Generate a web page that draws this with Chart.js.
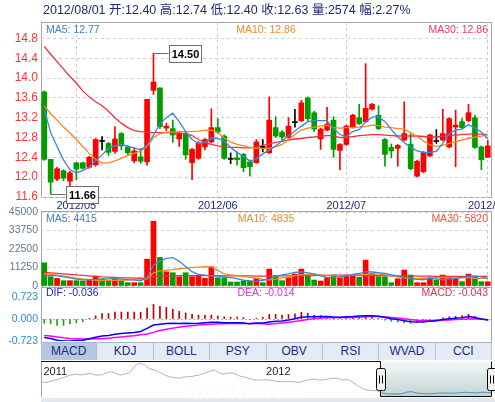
<!DOCTYPE html>
<html>
<head>
<meta charset="utf-8">
<script src="https://cdn.jsdelivr.net/npm/chart.js@4.4.1/dist/chart.umd.min.js"></script>
<style>
  html, body { margin: 0; padding: 0; background: #fff; }
  body { width: 495px; height: 402px; position: relative; overflow: hidden;
         font-family: "Liberation Sans", Arial, "Noto Sans CJK SC", sans-serif; }
  canvas { position: absolute; left: 0; }
  .frame { position: absolute; box-sizing: border-box; border: 1px solid #a6a6a6; }
  .txt { position: absolute; white-space: nowrap; }
  #tabs { position: absolute; left: 41px; top: 342px; width: 451px; height: 18px; display: flex;
          background: #e5ebf5; border-top: 1px solid #a9b8d0; box-sizing: border-box; z-index: 5; }
  #tabs div { flex: 1; text-align: center; font-size: 12px; line-height: 17px; color: #1d2b80;
              border-right: 1px solid #b3c1d9; }
  #tabs div.on { background: #b6c7e2; }
  #scroll { position: absolute; left: 41px; top: 398px; width: 454px; height: 4px; background: #e3e7ee; }
</style>
</head>
<body>
<div class="frame" style="left:41px;top:22px;width:451px;height:176px"></div>
<div class="frame" style="left:41px;top:211px;width:451px;height:132px"></div>
<div style="position:absolute;left:41px;top:287px;width:451px;height:1px;background:#a6a6a6"></div>
<div id="scroll"></div>

<canvas id="priceChart" width="495" height="212" style="top:0px"></canvas>
<canvas id="volChart" width="495" height="90" style="top:200px"></canvas>
<canvas id="macdChart" width="495" height="62" style="top:287px"></canvas>
<canvas id="navChart" width="495" height="44" style="top:358px"></canvas>
<div id="tabs"></div>
<div id="labels"></div>

<script>
// ---------- daily bars ----------
const dates = [
  '2012/04/23','2012/04/24','2012/04/25','2012/04/26','2012/04/27',
  '2012/05/02','2012/05/03','2012/05/04','2012/05/07','2012/05/08','2012/05/09','2012/05/10','2012/05/11',
  '2012/05/14','2012/05/15','2012/05/16','2012/05/17','2012/05/18','2012/05/21','2012/05/22','2012/05/23',
  '2012/05/24','2012/05/25','2012/05/28','2012/05/29','2012/05/30','2012/05/31',
  '2012/06/01','2012/06/04','2012/06/05','2012/06/06','2012/06/07','2012/06/08','2012/06/11','2012/06/12',
  '2012/06/13','2012/06/14','2012/06/15','2012/06/18','2012/06/19','2012/06/20','2012/06/21','2012/06/25',
  '2012/06/26','2012/06/27','2012/06/28','2012/06/29',
  '2012/07/02','2012/07/03','2012/07/04','2012/07/05','2012/07/06','2012/07/09','2012/07/10','2012/07/11',
  '2012/07/12','2012/07/13','2012/07/16','2012/07/17','2012/07/18','2012/07/19','2012/07/20','2012/07/23',
  '2012/07/24','2012/07/25','2012/07/26','2012/07/27','2012/07/30','2012/07/31',
  '2012/08/01'
];
const opens = [
  13.72,12.36,11.96,12.13,11.92,12.29,12.29,12.20,12.25,12.72,
  12.68,12.52,12.88,12.61,12.33,12.41,12.31,13.75,13.80,12.99,
  12.98,12.77,12.88,12.29,12.38,12.61,12.71,13.00,12.83,12.36,
  12.39,12.46,12.31,12.29,12.60,12.49,13.00,12.91,12.80,13.10,
  13.14,13.60,13.30,12.77,12.95,13.15,12.54,12.66,13.01,13.20,
  13.12,13.37,13.25,12.76,12.60,12.58,12.75,12.66,12.02,12.11,
  12.43,12.72,12.75,12.61,13.01,13.12,13.14,13.20,12.61,12.40
];
const highs = [
  13.74,12.36,12.20,12.15,12.12,12.30,12.30,12.42,12.78,12.82,
  12.70,13.02,12.90,12.64,12.60,12.58,13.57,14.50,13.80,13.09,
  13.15,12.92,12.92,12.58,12.72,12.78,13.38,13.18,12.85,12.49,
  12.51,12.48,12.35,12.76,12.76,13.62,13.22,12.94,13.20,13.37,
  13.55,13.62,13.33,12.99,13.41,13.22,12.68,13.05,13.27,13.47,
  14.29,13.49,13.44,12.78,12.67,12.66,13.52,12.88,12.34,12.52,
  12.87,12.96,13.37,13.20,13.35,13.18,13.47,13.25,12.63,12.74
];
const lows = [
  12.34,11.66,11.93,11.93,11.82,11.95,12.16,12.18,12.22,12.55,
  12.44,12.48,12.55,12.45,12.29,12.28,12.24,13.67,12.98,12.94,
  12.70,12.62,12.36,11.95,12.36,12.55,12.69,12.88,12.36,12.27,
  12.24,12.11,12.02,12.28,12.51,12.48,12.80,12.74,12.78,13.01,
  13.12,13.14,12.92,12.56,12.94,12.40,12.15,12.64,12.99,13.06,
  13.10,13.35,12.96,12.22,12.39,12.22,12.73,12.15,12.00,12.09,
  12.41,12.68,12.73,12.59,12.21,12.98,13.12,12.58,12.15,12.40
];
const closes = [
  12.36,11.90,12.17,11.98,12.09,12.16,12.18,12.40,12.76,12.72,
  12.50,12.77,12.63,12.49,12.53,12.32,13.57,13.92,13.02,13.03,
  12.85,12.89,12.45,12.56,12.68,12.76,13.00,12.91,12.38,12.36,
  12.35,12.19,12.21,12.71,12.60,13.15,12.83,12.81,13.03,13.10,
  13.50,13.18,12.97,12.97,13.07,12.56,12.66,13.03,13.25,13.08,
  13.39,13.47,12.98,12.46,12.53,12.64,12.88,12.17,12.32,12.50,
  12.85,12.72,12.88,13.18,13.05,13.00,13.30,12.60,12.35,12.63
];
const volumes = [
  14100,5650,4660,3230,3230,3230,3030,3630,6050,4400,
  3030,4040,3030,2020,2020,2020,16350,39360,17360,8680,
  8070,5650,8070,5650,6050,4660,11710,5050,5050,2420,
  2420,3030,3030,4660,2020,10300,6260,3230,5050,7270,
  10300,6660,3630,3030,5250,6660,5050,6660,6660,5250,
  15750,7670,5650,5650,2020,4440,9690,6660,2020,2020,
  5050,3630,6660,4660,4660,2620,7270,5850,2620,2574
];

// ---------- price moving averages ----------
const ma5 = [
  13.37,12.90,12.62,12.35,12.15,12.09,12.13,12.20,12.33,12.45,
  12.58,12.63,12.66,12.62,12.59,12.55,12.64,12.85,13.08,13.20,
  13.29,13.12,12.92,12.76,12.68,12.70,12.79,12.78,12.73,12.60,
  12.50,12.42,12.32,12.37,12.47,12.55,12.63,12.73,12.83,12.93,
  13.03,13.12,13.14,13.14,13.14,12.98,12.86,12.82,12.92,12.96,
  13.12,13.21,13.22,13.12,12.96,12.81,12.70,12.60,12.53,12.50,
  12.50,12.52,12.68,12.88,12.95,12.97,13.06,12.99,12.91,12.77
];
const ma10 = [
  13.44,13.28,13.15,13.01,12.89,12.76,12.62,12.48,12.36,12.29,
  12.29,12.33,12.38,12.44,12.48,12.53,12.62,12.80,12.88,12.91,
  12.91,12.92,12.92,12.92,12.93,12.95,12.95,12.90,12.79,12.71,
  12.66,12.63,12.60,12.58,12.58,12.58,12.61,12.66,12.76,12.86,
  12.95,12.99,13.01,13.03,13.05,13.00,12.99,13.00,13.00,13.01,
  13.02,13.05,13.04,13.01,13.00,12.98,12.97,12.90,12.82,12.73,
  12.65,12.62,12.64,12.68,12.71,12.75,12.78,12.81,12.83,12.86
];
const ma30 = [
  14.64,14.48,14.33,14.18,14.03,13.90,13.74,13.62,13.52,13.44,
  13.33,13.20,13.09,13.00,12.94,12.92,12.91,12.90,12.90,12.90,
  12.90,12.89,12.88,12.84,12.76,12.70,12.66,12.63,12.61,12.60,
  12.60,12.59,12.59,12.61,12.64,12.67,12.70,12.72,12.75,12.77,
  12.78,12.80,12.81,12.83,12.84,12.84,12.80,12.80,12.82,12.84,
  12.85,12.86,12.86,12.85,12.84,12.83,12.83,12.83,12.83,12.82,
  12.81,12.81,12.83,12.85,12.85,12.86,12.87,12.87,12.87,12.86
];

// ---------- volume moving averages ----------
const volMa5 = [
  5700,6500,6200,5500,4900,4200,3700,3800,4000,4100,
  4300,4400,4200,3900,3700,3200,5200,12700,15300,16800,
  17300,15000,11800,8700,7000,6600,6200,6000,5600,5100,
  4500,3500,3100,2800,3500,4300,5500,6700,7400,8200,
  8600,8000,7400,6200,5300,5400,5600,6200,7000,7600,
  8700,8500,8100,7600,6700,6100,5300,4600,4000,3800,
  4600,4300,3700,4200,4700,5200,5800,6000,5500,4415
];
const volMa10 = [
  7300,7000,6600,6100,5400,4800,4300,3900,3500,3300,
  3300,3400,3500,3600,3700,3800,4300,8000,9200,9600,
  10000,10500,10900,11200,11500,11700,11600,9500,7400,6700,
  6300,5800,5300,4800,4000,3700,4200,4900,5500,6300,
  6900,7100,6900,6700,6500,6200,6100,6300,6600,6800,
  7100,7300,7200,6700,6100,5500,5000,4700,4500,4700,
  5000,5100,5200,5100,5000,5000,4900,4700,4600,4835
];
const volMa30 = [
  8200,8000,7700,7400,7100,6800,6500,6200,5900,5600,
  5400,5200,5000,4900,4800,4700,4800,5700,6100,6200,
  6300,6300,6300,6300,6300,6300,6300,6300,6200,6200,
  6200,6100,6100,6000,6000,6000,6100,6100,6200,6200,
  6300,6400,6400,6500,6500,6600,6600,6500,6500,6400,
  6400,6400,6300,6300,6200,6200,6100,6100,6000,6000,
  6000,5900,5900,5900,5900,5900,5900,5800,5800,5820
];

// ---------- MACD ----------
const dif = [
  -0.61,-0.64,-0.70,-0.72,-0.72,-0.71,-0.70,-0.65,-0.60,-0.56,
  -0.54,-0.50,-0.48,-0.46,-0.44,-0.41,-0.31,-0.20,-0.17,-0.15,
  -0.14,-0.15,-0.14,-0.15,-0.14,-0.12,-0.11,-0.11,-0.12,-0.12,
  -0.12,-0.13,-0.16,-0.135,-0.13,-0.095,-0.075,-0.065,-0.035,0.005,
  0.06,0.075,0.07,0.085,0.08,0.065,0.055,0.07,0.08,0.095,
  0.11,0.11,0.09,0.05,0.01,-0.02,-0.055,-0.09,-0.10,-0.095,
  -0.07,-0.06,-0.02,0.005,0.025,0.045,0.08,0.05,0.00,-0.036
];
const dea = [
  -0.54,-0.56,-0.59,-0.62,-0.64,-0.65,-0.66,-0.66,-0.65,-0.65,
  -0.63,-0.61,-0.59,-0.57,-0.55,-0.52,-0.49,-0.44,-0.38,-0.34,
  -0.30,-0.27,-0.24,-0.22,-0.20,-0.18,-0.17,-0.16,-0.155,-0.15,
  -0.15,-0.15,-0.15,-0.15,-0.16,-0.17,-0.15,-0.13,-0.11,-0.08,
  -0.05,-0.02,0.01,0.03,0.04,0.05,0.05,0.05,0.05,0.06,
  0.07,0.08,0.08,0.07,0.05,0.03,0.01,-0.02,-0.04,-0.05,
  -0.05,-0.05,-0.04,-0.03,-0.02,-0.01,0.00,0.01,-0.01,-0.014
];
const macdHist = [
  -0.14,-0.16,-0.21,-0.21,-0.16,-0.13,-0.09,0.02,0.10,0.18,
  0.18,0.23,0.23,0.23,0.23,0.22,0.36,0.48,0.42,0.38,
  0.32,0.25,0.20,0.15,0.13,0.12,0.13,0.10,0.07,0.06,
  0.06,0.05,-0.02,0.03,0.06,0.15,0.15,0.13,0.15,0.17,
  0.22,0.19,0.12,0.11,0.08,0.03,0.01,0.04,0.06,0.07,
  0.08,0.06,0.02,-0.04,-0.08,-0.10,-0.13,-0.14,-0.12,-0.09,
  -0.04,-0.02,0.04,0.07,0.09,0.11,0.16,0.08,0.02,-0.043
];

// ---------- axes ----------
const priceTicks = [11.6, 12.0, 12.4, 12.8, 13.2, 13.6, 14.0, 14.4, 14.8];
const priceMax = 15.13;
const volumeTicks = [0, 11250, 22500, 33750, 45000];
const macdTicks = [-0.723, 0, 0.723];
const indicatorTabs = ['MACD', 'KDJ', 'BOLL', 'PSY', 'OBV', 'RSI', 'WVAD', 'CCI'];

// ---------- navigator (long-range closes) ----------
const navValues = [
  19.1,18.6,19.4,20.0,20.8,21.7,22.6,23.1,22.6,23.1,
  23.5,22.6,22.6,23.4,24.4,23.7,22.6,23.1,23.9,27.4,
  29.1,27.9,25.8,25.3,23.9,22.6,21.7,21.2,20.9,21.6,
  21.7,22.1,22.6,23.5,24.4,25.3,23.7,23.1,23.8,23.5,
  22.2,21.6,20.9,20.0,20.0,20.0,20.0,19.6,19.1,19.1,
  19.1,19.1,18.6,19.4,20.0,20.5,20.0,20.0,20.5,20.9,
  20.8,20.0,20.2,18.9,17.0,15.4,14.7,14.4,14.3,
  13.1,12.6,12.6,12.6,12.7,13.6,13.8,13.1,12.8,12.7,
  12.7,13.0,13.1,13.1,13.0,13.1,13.3,13.5,13.3,13.1,
  13.5,13.5,13.1
];
const navYearLabels = ['2011', '2012'];
const navYearIndex = [0, 45];
const navRangeStart = 69;

// ---------- styling ----------
Chart.defaults.font.family = '"Liberation Sans", Arial, sans-serif';
const UP = '#ff0000', DOWN = '#009c00', FLAT = '#000000';
const candleColor = closes.map((c, i) => c > opens[i] ? UP : (c < opens[i] ? DOWN : FLAT));
const volColor = closes.map((c, i) => {
  if (c > opens[i]) return UP;
  if (c < opens[i]) return DOWN;
  return (i > 0 && c < closes[i - 1]) ? DOWN : UP;
});
const isMonthStart = i => i > 0 && dates[i].slice(0, 7) !== dates[i - 1].slice(0, 7);

const baseOpts = {
  responsive: false, animation: false, events: [],
  plugins: { legend: { display: false }, tooltip: { enabled: false } }
};

function timeAxis(showLabels, showGrid) {
  return {
    type: 'category', offset: true,
    grid: { display: showGrid, offset: false, drawTicks: false,
            color: c => isMonthStart(c.index) ? '#c9c9c9' : 'rgba(0,0,0,0)' },
    border: { display: false, dash: [3, 3] },
    ticks: { display: showLabels, autoSkip: false, maxRotation: 0, minRotation: 0, padding: 2,
             color: '#1f2d7a', font: { size: 11 },
             callback: (v, i) => isMonthStart(i) ? dates[i].slice(0, 7) : '' },
    afterFit: s => { s.height = showLabels ? 15 : 0; s.paddingLeft = 0; s.paddingRight = 0; }
  };
}
function valueAxis(tickValues, min, max, color, size, fmt, gridColor, dash) {
  return {
    type: 'linear', position: 'left', min, max,
    afterBuildTicks: s => { s.ticks = tickValues.map(v => ({ value: v })); },
    grid: { drawTicks: false, color: gridColor },
    border: { display: false, dash: dash },
    ticks: { color, font: { size }, padding: 3, callback: fmt },
    afterFit: s => { s.width = 41; s.paddingTop = 0; s.paddingBottom = 0; }
  };
}
const lineDs = (label, data, color, order, width) => ({
  type: 'line', label, data, borderColor: color, borderWidth: width || 1.3,
  pointRadius: 0, tension: 0, fill: false, order
});

// tags for the highest high and lowest low of the window
function drawTag(ctx, px, py, value) {
  const lead = 15, w = 32, h = 17;
  const yy = Math.round(py) + 0.5;
  ctx.save();
  ctx.strokeStyle = '#6e6e6e';
  ctx.lineWidth = 1;
  ctx.beginPath(); ctx.moveTo(px, yy); ctx.lineTo(px + lead, yy); ctx.stroke();
  const bx = Math.round(px + lead) + 0.5, by = Math.round(py - h / 2) + 0.5;
  ctx.fillStyle = '#ffffff';
  ctx.fillRect(bx, by, w, h);
  ctx.strokeRect(bx, by, w, h);
  ctx.fillStyle = '#000000';
  ctx.font = 'bold 11px "Liberation Sans", Arial, sans-serif';
  ctx.textAlign = 'center';
  ctx.textBaseline = 'middle';
  ctx.fillText(value.toFixed(2), bx + w / 2, by + h / 2 + 0.5);
  ctx.restore();
}
const extremeTags = {
  id: 'extremeTags',
  afterDraw(chart) {
    const { ctx, scales: { x, y } } = chart;
    const hi = Math.max(...highs), lo = Math.min(...lows);
    const hiIdx = highs.indexOf(hi), loIdx = lows.indexOf(lo);
    drawTag(ctx, x.getPixelForValue(hiIdx), y.getPixelForValue(hi), hi);
    drawTag(ctx, x.getPixelForValue(loIdx), y.getPixelForValue(lo), lo);
  }
};

// ---------- price panel ----------
new Chart(document.getElementById('priceChart'), {
  type: 'bar',
  data: {
    labels: dates,
    datasets: [
      lineDs('MA5', ma5, '#3b86d6', 0),
      lineDs('MA10', ma10, '#f7881e', 1),
      lineDs('MA30', ma30, '#f0303c', 2),
      { label: 'body', data: opens.map((o, i) => [o, closes[i]]), backgroundColor: candleColor,
        barThickness: 5, minBarLength: 1, grouped: false, order: 3 },
      { label: 'wick', data: lows.map((l, i) => [l, highs[i]]), backgroundColor: candleColor,
        barThickness: 1, grouped: false, order: 4 }
    ]
  },
  options: Object.assign({}, baseOpts, {
    layout: { padding: { top: 22, right: 4, left: 0, bottom: 0 } },
    scales: {
      x: timeAxis(true, true),
      y: valueAxis(priceTicks, priceTicks[0], priceMax, '#ff3333', 12, v => v.toFixed(1), '#d2d2d2', [3, 3])
    }
  }),
  plugins: [extremeTags]
});

// ---------- volume panel ----------
new Chart(document.getElementById('volChart'), {
  type: 'bar',
  data: {
    labels: dates,
    datasets: [
      lineDs('MA5', volMa5, '#3b86d6', 0),
      lineDs('MA10', volMa10, '#f7881e', 1),
      lineDs('MA30', volMa30, '#f0303c', 2),
      { label: 'vol', data: volumes, backgroundColor: volColor, barThickness: 5, grouped: false, order: 3 }
    ]
  },
  options: Object.assign({}, baseOpts, {
    layout: { padding: { top: 12, right: 4, left: 0, bottom: 4 } },
    scales: {
      x: timeAxis(false, true),
      y: valueAxis(volumeTicks, 0, volumeTicks[volumeTicks.length - 1], '#66788f', 10.5,
                   v => String(v), '#d2d2d2', [3, 3])
    }
  })
});

// ---------- MACD panel ----------
new Chart(document.getElementById('macdChart'), {
  type: 'bar',
  data: {
    labels: dates,
    datasets: [
      lineDs('DIF', dif, '#0000ff', 0, 1.5),
      lineDs('DEA', dea, '#ff00ff', 1, 1.5),
      { label: 'MACD', data: macdHist, backgroundColor: macdHist.map(v => v >= 0 ? '#c00000' : '#20a020'),
        barThickness: 1, grouped: false, order: 2 }
    ]
  },
  options: Object.assign({}, baseOpts, {
    layout: { padding: { top: 10, right: 4, left: 0, bottom: 8 } },
    scales: {
      x: timeAxis(false, false),
      y: valueAxis(macdTicks, macdTicks[0], macdTicks[macdTicks.length - 1], '#2b8ce0', 10.5,
                   v => v.toFixed(3), c => (c.tick && c.tick.value === 0) ? '#b4b4b4' : 'rgba(0,0,0,0)', [2, 2])
    }
  })
});

// ---------- navigator ----------
function drawHandle(ctx, cx, top) {
  const w = 9, h = 22, x0 = Math.round(cx - w / 2) + 0.5, y0 = top + 7.5;
  ctx.save();
  ctx.fillStyle = '#f2f2f2';
  ctx.strokeStyle = '#000';
  ctx.lineWidth = 1;
  ctx.beginPath();
  ctx.roundRect(x0, y0, w, h, 2);
  ctx.fill(); ctx.stroke();
  ctx.beginPath();
  ctx.moveTo(x0 + 3, y0 + 7); ctx.lineTo(x0 + 3, y0 + 15);
  ctx.moveTo(x0 + 6, y0 + 7); ctx.lineTo(x0 + 6, y0 + 15);
  ctx.stroke();
  ctx.restore();
}
const navDecor = {
  id: 'navDecor',
  beforeDatasetsDraw(chart) {
    const { ctx, chartArea: a, scales: { x } } = chart;
    const hx = (x.getPixelForValue(navRangeStart - 1) + x.getPixelForValue(navRangeStart)) / 2;
    const g = ctx.createLinearGradient(0, a.top, 0, a.bottom);
    g.addColorStop(0, '#f6f9f9');
    g.addColorStop(1, '#c0d3d0');
    ctx.save();
    ctx.fillStyle = g;
    ctx.fillRect(hx, a.top, a.right - hx, a.bottom - a.top);
    ctx.fillStyle = '#222';
    ctx.font = '11px "Liberation Sans", Arial, sans-serif';
    ctx.textBaseline = 'middle';
    navYearLabels.forEach((t, k) => ctx.fillText(t, x.getPixelForValue(navYearIndex[k]) + 2.5, a.top + 11));
    ctx.restore();
  },
  afterDraw(chart) {
    const { ctx, chartArea: a, scales: { x } } = chart;
    const hx = Math.round((x.getPixelForValue(navRangeStart - 1) + x.getPixelForValue(navRangeStart)) / 2) + 0.5;
    ctx.save();
    ctx.font = '20px "Liberation Sans", Arial, sans-serif';
    ctx.fillStyle = 'rgba(250,250,250,0.7)';
    ctx.textBaseline = 'alphabetic';
    ctx.fillText('laserfair.com', 187, 41);
    ctx.strokeStyle = '#a6a6a6';
    ctx.lineWidth = 1;
    ctx.beginPath(); ctx.moveTo(41.5, a.top); ctx.lineTo(41.5, a.bottom); ctx.stroke();
    ctx.strokeStyle = '#111';
    ctx.beginPath();
    ctx.moveTo(41, a.top + 0.5);
    ctx.lineTo(hx, a.top + 0.5);
    ctx.lineTo(hx, a.bottom - 0.5);
    ctx.lineTo(a.right + 0.5, a.bottom - 0.5);
    ctx.lineTo(a.right + 0.5, a.top + 0.5);
    ctx.stroke();
    ctx.restore();
    drawHandle(ctx, hx, a.top);
    drawHandle(ctx, a.right + 0.5, a.top);
  }
};
new Chart(document.getElementById('navChart'), {
  type: 'line',
  data: {
    labels: navValues.map((_, i) => i),
    datasets: [{
      data: navValues, borderWidth: 1, pointRadius: 0, tension: 0, fill: false,
      borderColor: '#b4b4b4',
      segment: { borderColor: c => c.p0DataIndex >= navRangeStart ? '#4d8fc2' : '#b4b4b4' }
    }]
  },
  options: Object.assign({}, baseOpts, {
    layout: { padding: { top: 3, right: 4, left: 41, bottom: 5 } },
    scales: {
      x: { type: 'category', display: false, offset: false },
      y: { type: 'linear', display: false, min: 11, max: 30 }
    }
  }),
  plugins: [navDecor]
});

// ---------- text overlays ----------
const labelsEl = document.getElementById('labels');
function addText(text, x, centerY, color, size, align) {
  const d = document.createElement('div');
  d.className = 'txt';
  d.textContent = text;
  d.style.color = color;
  d.style.fontSize = size + 'px';
  d.style.lineHeight = '14px';
  d.style.top = (centerY - 7) + 'px';
  d.style.zIndex = 6;
  if (align === 'left') d.style.left = x + 'px';
  else if (align === 'right') d.style.right = (495 - x) + 'px';
  else { d.style.left = x + 'px'; d.style.transform = 'translateX(-50%)'; }
  labelsEl.appendChild(d);
}
const last = dates.length - 1;
const pct = (closes[last] / closes[last - 1] - 1) * 100;
addText(`${dates[last]} 开:${opens[last].toFixed(2)} 高:${highs[last].toFixed(2)} 低:${lows[last].toFixed(2)} 收:${closes[last].toFixed(2)} 量:${volumes[last]} 幅:${pct.toFixed(2)}%`,
        43, 9.5, '#1e2a78', 12.5, 'left');

addText(`MA5: ${ma5[last].toFixed(2)}`, 46, 28.5, '#3b7fd0', 10.5, 'left');
addText(`MA10: ${ma10[last].toFixed(2)}`, 266, 28.5, '#f08a2a', 10.5, 'center');
addText(`MA30: ${ma30[last].toFixed(2)}`, 488, 28.5, '#ee3a58', 10.5, 'right');

addText(`MA5: ${volMa5[last]}`, 46, 217.5, '#3b7fd0', 10.5, 'left');
addText(`MA10: ${volMa10[last]}`, 266, 217.5, '#f08a2a', 10.5, 'center');
addText(`MA30: ${volMa30[last]}`, 488, 217.5, '#f0503a', 10.5, 'right');

addText(`DIF: ${dif[last].toFixed(3)}`, 46, 292, '#2323c8', 10.5, 'left');
addText(`DEA: ${dea[last].toFixed(3)}`, 266, 292, '#e030e0', 10.5, 'center');
addText(`MACD: ${macdHist[last].toFixed(3)}`, 488, 292, '#e0304a', 10.5, 'right');

const tabsEl = document.getElementById('tabs');
indicatorTabs.forEach((t, i) => {
  const d = document.createElement('div');
  d.textContent = t;
  if (i === 0) d.className = 'on';
  tabsEl.appendChild(d);
});
</script>
</body>
</html>
